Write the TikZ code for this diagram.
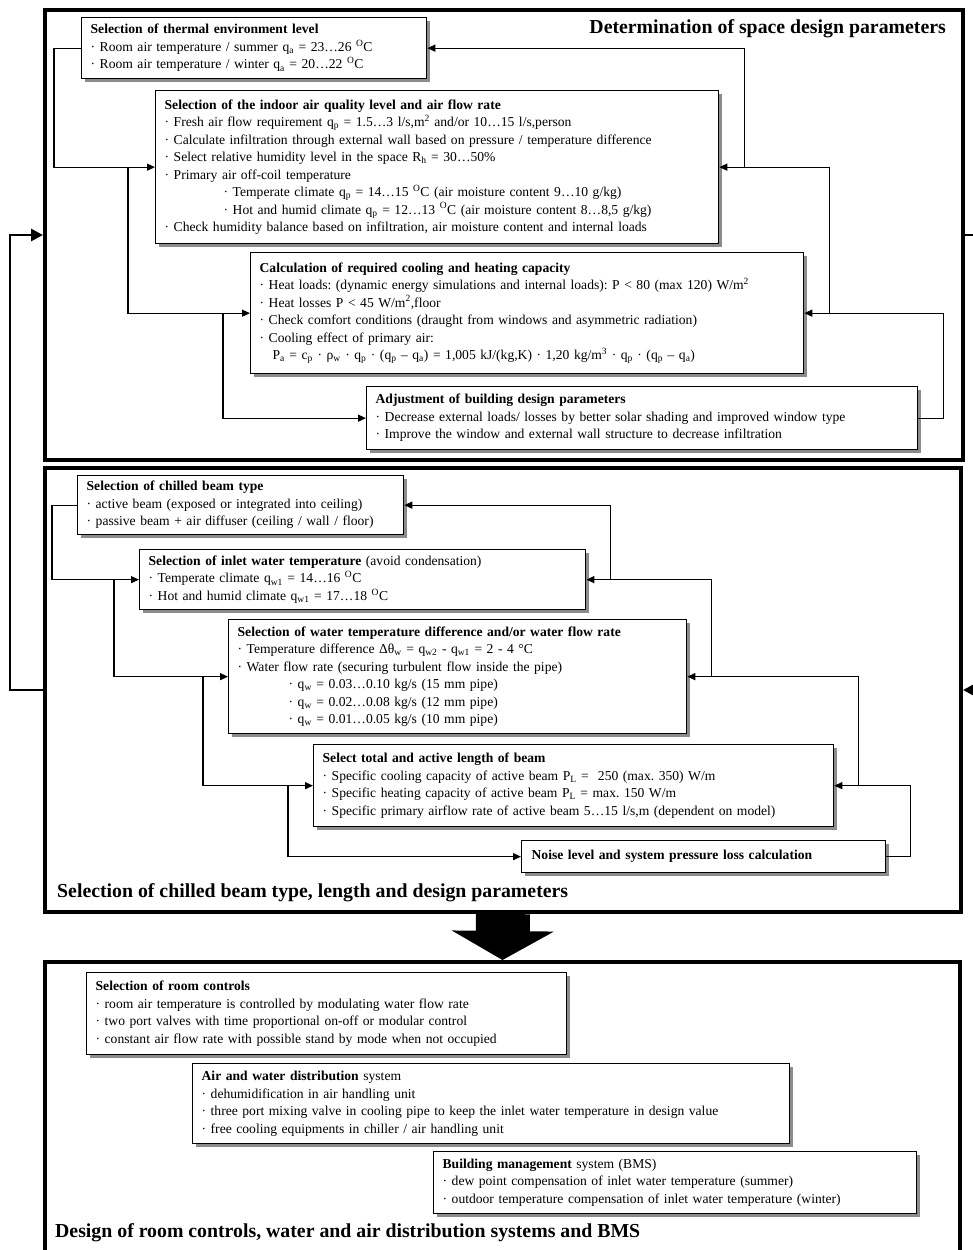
\documentclass[tikz,border=0pt]{standalone}
\usepackage{fontspec}
\setmainfont{Liberation Serif}
\usetikzlibrary{arrows.meta,shadows}

\newcommand{\dotmark}{·\ }
\newcommand{\degO}{\textsuperscript{O}C}
\newcommand{\sub}[1]{\textsubscript{#1}}
\frenchspacing

\tikzset{
  stage/.style={draw=black, line width=4pt, anchor=north west, inner sep=0pt},
  card/.style={draw=black, line width=1.3pt, fill=white, anchor=north west,
    inner xsep=9pt, inner ysep=0pt, align=left,
    font=\fontsize{13.6}{17.5}\selectfont,
    drop shadow={shadow xshift=3pt, shadow yshift=-3pt, fill=black!45, opacity=1}},
  wire/.style={draw=black, line width=1.2pt},
  flow/.style={wire, -{Triangle[length=8pt,width=7pt]}},
  loop/.style={draw=black, line width=2.8pt, -{Triangle[length=12pt,width=12pt]}},
  heading/.style={font=\fontsize{19.8}{22}\selectfont\bfseries, inner sep=0pt},
}

\begin{document}
\begin{tikzpicture}[x=1pt,y=-1pt]
\useasboundingbox (0,0) rectangle (973,1250);
\clip (0,0) rectangle (973,1250);

% ---------- three stages ----------
\node[stage, minimum width=918pt, minimum height=450pt] (S1) at (43,8) {};
\node[stage, minimum width=916pt, minimum height=444pt] (S2) at (43,466) {};
\node[stage, minimum width=915pt, minimum height=302pt] (S3) at (43,960) {};

\node[heading, anchor=east] (h1) at (946,29) {Determination of space design parameters};
\node[heading, anchor=west] (h2) at (57,893) {Selection of chilled beam type, length and design parameters};
\node[heading, anchor=west] (h3) at (55,1233) {Design of room controls, water and air distribution systems and BMS};

% ---------- stage 1: space design parameters ----------
\node[card, text width=327pt, minimum height=61pt] (A) at (81,17) {%
\textbf{Selection of thermal environment level}\\
\dotmark Room air temperature / summer q\sub{a} = 23…26 \degO\\
\dotmark Room air temperature / winter q\sub{a} = 20…22 \degO};

\node[card, text width=545pt, minimum height=153pt] (B) at (155,90) {%
\textbf{Selection of the indoor air quality level and air flow rate}\\
\dotmark Fresh air flow requirement q\sub{p} = 1.5…3 l/s,m\textsuperscript{2} and/or 10…15 l/s,person\\
\dotmark Calculate infiltration through external wall based on pressure / temperature difference\\
\dotmark Select relative humidity level in the space R\sub{h} = 30…50\%\\
\dotmark Primary air off-coil temperature\\
\hspace*{59pt}\dotmark Temperate climate q\sub{p} = 14…15 \degO\ (air moisture content 9…10 g/kg)\\
\hspace*{59pt}\dotmark Hot and humid climate q\sub{p} = 12…13 \degO\ (air moisture content 8…8,5 g/kg)\\
\dotmark Check humidity balance based on infiltration, air moisture content and internal loads};

\node[card, text width=535pt, minimum height=121pt] (C) at (250,252) {%
\textbf{Calculation of required cooling and heating capacity}\\
\dotmark Heat loads: (dynamic energy simulations and internal loads): P < 80 (max 120) W/m\textsuperscript{2}\\
\dotmark Heat losses P < 45 W/m\textsuperscript{2},floor\\
\dotmark Check comfort conditions (draught from windows and asymmetric radiation)\\
\dotmark Cooling effect of primary air:\\
\hspace*{13pt}P\sub{a} = c\sub{p} · ρ\sub{w} · q\sub{p} · (q\sub{p} – q\sub{a}) = 1,005 kJ/(kg,K) · 1,20 kg/m\textsuperscript{3} · q\sub{p} · (q\sub{p} – q\sub{a})};

\node[card, text width=533pt, minimum height=63pt] (D) at (366,386) {%
\textbf{Adjustment of building design parameters}\\
\dotmark Decrease external loads/ losses by better solar shading and improved window type\\
\dotmark Improve the window and external wall structure to decrease infiltration};

\draw[flow] (A.west) -- ++(-27,0) |- (B.west);
\draw[flow] ([xshift=-27pt]B.west) |- (C.west);
\draw[flow] ([xshift=-27pt]C.west) |- (D.west);

\draw[flow] (D.east) -- ++(25,0) |- (C.east);
\draw[flow] ([xshift=25pt]C.east) |- (B.east);
\draw[flow] ([xshift=25pt]B.east) |- (A.east);

% ---------- stage 2: chilled beam selection ----------
\node[card, text width=308pt, minimum height=59pt] (E) at (77,475) {%
\textbf{Selection of chilled beam type}\\
\dotmark active beam (exposed or integrated into ceiling)\\
\dotmark passive beam + air diffuser (ceiling / wall / floor)};

\node[card, text width=428pt, minimum height=60pt] (F) at (139,549) {%
\textbf{Selection of inlet water temperature} (avoid condensation)\\
\dotmark Temperate climate q\sub{w1} = 14…16 \degO\\
\dotmark Hot and humid climate q\sub{w1} = 17…18 \degO};

\node[card, text width=440pt, minimum height=114pt] (G) at (228,619) {%
\textbf{Selection of water temperature difference and/or water flow rate}\\
\dotmark Temperature difference Δθ\sub{w} = q\sub{w2} - q\sub{w1} = 2 - 4 °C\\
\dotmark Water flow rate (securing turbulent flow inside the pipe)\\
\hspace*{51pt}\dotmark q\sub{w} = 0.03…0.10 kg/s (15 mm pipe)\\
\hspace*{51pt}\dotmark q\sub{w} = 0.02…0.08 kg/s (12 mm pipe)\\
\hspace*{51pt}\dotmark q\sub{w} = 0.01…0.05 kg/s (10 mm pipe)};

\node[card, text width=502pt, minimum height=82pt] (H) at (313,744) {%
\textbf{Select total and active length of beam}\\
\dotmark Specific cooling capacity of active beam P\sub{L} = \ 250 (max. 350) W/m\\
\dotmark Specific heating capacity of active beam P\sub{L} = max. 150 W/m\\
\dotmark Specific primary airflow rate of active beam 5…15 l/s,m (dependent on model)};

\node[card, text width=344pt, inner xsep=10pt, minimum height=32pt] (I) at (521,840) {%
\textbf{Noise level and system pressure loss calculation}};

\draw[flow] (E.west) -- ++(-25,0) |- (F.west);
\draw[flow] ([xshift=-25pt]F.west) |- (G.west);
\draw[flow] ([xshift=-25pt]G.west) |- (H.west);
\draw[flow] ([xshift=-25pt]H.west) |- (I.west);

\draw[flow] (I.east) -- ++(24,0) |- (H.east);
\draw[flow] ([xshift=24pt]H.east) |- (G.east);
\draw[flow] ([xshift=24pt]G.east) |- (F.east);
\draw[flow] ([xshift=24pt]F.east) |- (E.east);

% ---------- stage 3: controls and distribution ----------
\node[card, text width=462pt, minimum height=82pt] (J) at (86,972) {%
\textbf{Selection of room controls}\\
\dotmark room air temperature is controlled by modulating water flow rate\\
\dotmark two port valves with time proportional on-off or modular control\\
\dotmark constant air flow rate with possible stand by mode when not occupied};

\node[card, text width=579pt, minimum height=80pt] (K) at (192,1063) {%
\textbf{Air and water distribution} system\\
\dotmark dehumidification in air handling unit\\
\dotmark three port mixing valve in cooling pipe to keep the inlet water temperature in design value\\
\dotmark free cooling equipments in chiller / air handling unit};

\node[card, text width=465pt, minimum height=62pt] (L) at (433,1151) {%
\textbf{Building management} system (BMS)\\
\dotmark dew point compensation of inlet water temperature (summer)\\
\dotmark outdoor temperature compensation of inlet water temperature (winter)};

% ---------- links between stages ----------
\draw[loop] (S2.west) -- ++(-33,0) |- (S1.west);
\draw[loop] (S1.east) -- ++(10,0) |- (S2.east);
\draw[line width=54pt, -{Triangle[length=29pt,width=101pt]}] (S2.south) -- (S3.north);
\end{tikzpicture}
\end{document}
